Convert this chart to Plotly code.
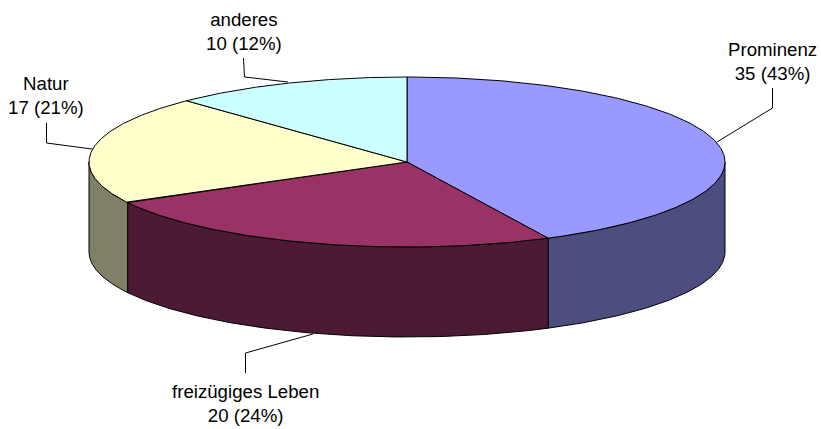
import numpy as np
import plotly.graph_objects as go

categories = ["Prominenz", "freizügiges Leben", "Natur", "anderes"]
values = [35, 20, 17, 10]
top_colors = ["#9999FF", "#993366", "#FFFFCC", "#CCFFFF"]
side_colors = ["#4D4D80", "#4D1A33", "#808066", "#668080"]

CX, CY, RX, RY, DEPTH = 407, 162, 318, 85, 90
label_pos = [(772, 61), (245, 403), (46, 95), (244, 31)]
leaders = [
    [(772.5, 88), (772.5, 108), (717, 142)],
    [(245.5, 373), (245.5, 353), (313, 334)],
    [(46.5, 123), (46.5, 143), (92, 149)],
    [(243.5, 58), (244.5, 77), (288, 82)],
]


def ex(t):
    return CX + RX * np.sin(t)


def ey(t, dz=0):
    return CY - RY * np.cos(t) + dz


fig = go.Figure()
total = sum(values)
edges = np.concatenate([[0], np.cumsum(values)]) / total * 2 * np.pi
line = dict(color="black", width=1)

# side walls (front half of the ellipse only)
for i in range(len(values)):
    a, b = max(edges[i], np.pi / 2), min(edges[i + 1], 3 * np.pi / 2)
    if b <= a:
        continue
    t = np.linspace(a, b, 120)
    xs = np.concatenate([ex(t), ex(t[::-1]), [ex(t[0])]])
    ys = np.concatenate([ey(t), ey(t[::-1], DEPTH), [ey(t[0])]])
    fig.add_trace(go.Scatter(x=xs, y=ys, mode="lines", fill="toself",
                             fillcolor=side_colors[i], line=line))

# top faces
for i in range(len(values)):
    t = np.linspace(edges[i], edges[i + 1], 200)
    xs = np.concatenate([[CX], ex(t), [CX]])
    ys = np.concatenate([[CY], ey(t), [CY]])
    fig.add_trace(go.Scatter(x=xs, y=ys, mode="lines", fill="toself",
                             fillcolor=top_colors[i], line=line))

# leader lines
for pts in leaders:
    fig.add_trace(go.Scatter(x=[p[0] for p in pts], y=[p[1] for p in pts],
                             mode="lines", line=line))

for name, v, (lx, ly) in zip(categories, values, label_pos):
    fig.add_annotation(x=lx, y=ly, text=f"{name}<br>{v} ({round(v / total * 100)}%)",
                       showarrow=False, xanchor="center", yanchor="middle", align="center",
                       font=dict(family="Liberation Sans, Arial, sans-serif", size=18.67, color="black"))

fig.update_layout(
    width=821, height=429, margin=dict(l=0, r=0, t=0, b=0),
    paper_bgcolor="white", plot_bgcolor="white", showlegend=False, hovermode=False,
    xaxis=dict(range=[0, 821], visible=False, fixedrange=True),
    yaxis=dict(range=[429, 0], visible=False, fixedrange=True),
)
fig.write_html("out.html", config=dict(displayModeBar=False),
               post_script="document.body.style.margin='0';document.body.style.overflow='hidden';")
